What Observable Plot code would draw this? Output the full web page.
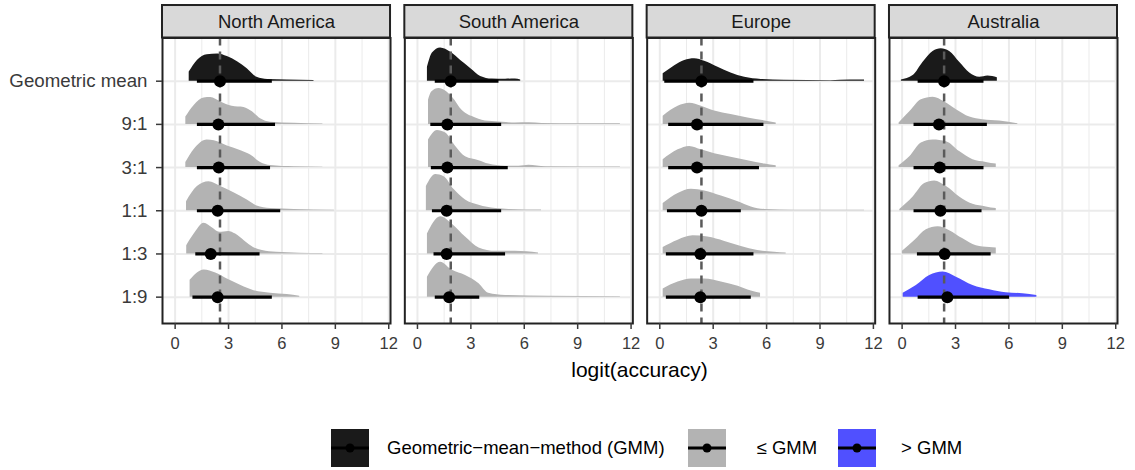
<!DOCTYPE html>
<html><head><meta charset="utf-8">
<script src="https://cdn.jsdelivr.net/npm/d3@7"></script>
<script src="https://cdn.jsdelivr.net/npm/@observablehq/plot@0.6"></script>
<style>
body{margin:0;background:#fff;font-family:"Liberation Sans",Arial,sans-serif;}
#wrap{position:relative;width:1135px;height:470px;overflow:hidden;}
#xtitle{position:absolute;left:162px;width:955px;top:357px;height:26px;line-height:26px;text-align:center;font-size:21px;color:#000;}
#legend{position:absolute;left:331px;top:428px;height:39px;display:flex;align-items:center;font-size:18.5px;color:#000;white-space:nowrap;}
#legend svg{display:block;}
</style></head>
<body><div id="wrap"><div id="chart"></div><div id="xtitle">logit(accuracy)</div><div id="legend"></div></div>
<script>
const regions = ["North America", "South America", "Europe", "Australia"];
const methods = ["Geometric mean", "9:1", "3:1", "1:1", "1:3", "1:9"];
const xTicks = [0, 3, 6, 9, 12];
const xMinor = [1.5, 4.5, 7.5, 10.5];
const gmmRef = [2.52, 1.87, 2.34, 2.36];

const groupKeys = ["gmm", "le", "gt"];
const groupNames = ["Geometric\u2212mean\u2212method (GMM)", "\u2264 GMM", "> GMM"];
const groupColors = ["#1a1a1a", "#b3b3b3", "#5050ff"];

const groupNA = ["gmm", "le", "le", "le", "le", "le"];
const groupSA = ["gmm", "le", "le", "le", "le", "le"];
const groupEU = ["gmm", "le", "le", "le", "le", "le"];
const groupAU = ["gmm", "le", "le", "le", "le", "gt"];

const estNA = [2.52, 2.43, 2.45, 2.39, 2.00, 2.39];
const loNA  = [1.25, 1.25, 1.25, 1.25, 1.16, 1.00];
const hiNA  = [5.46, 5.64, 5.36, 5.93, 4.77, 5.46];
const estSA = [1.87, 1.68, 1.68, 1.64, 1.64, 1.78];
const loSA  = [1.00, 0.75, 0.78, 0.84, 0.93, 1.00];
const hiSA  = [4.58, 4.73, 5.10, 4.73, 4.95, 3.50];
const estEU = [2.34, 2.09, 2.09, 2.34, 2.28, 2.28];
const loEU  = [0.28, 0.50, 0.50, 0.43, 0.37, 0.37];
const hiEU  = [5.29, 5.85, 5.60, 4.58, 5.29, 5.14];
const estAU = [2.36, 2.07, 2.11, 2.15, 2.39, 2.54];
const loAU  = [0.90, 0.67, 0.67, 0.67, 0.86, 0.90];
const hiAU  = [4.60, 4.79, 4.60, 4.49, 5.00, 6.04];

// density profiles [x, height] per method (Geometric mean, 9:1, 3:1, 1:1, 1:3, 1:9)
const densNA = [
  [[0.79,0.21],[1.25,0.48],[1.8,0.61],[2.4,0.63],[2.93,0.57],[3.5,0.45],[4.05,0.29],[4.6,0.09],[5.2,0.04],[6.3,0.03],[7.8,0.015]],
  [[0.6,0.17],[1.07,0.44],[1.63,0.61],[2.0,0.62],[2.56,0.52],[3.2,0.42],[3.87,0.39],[4.34,0.29],[4.8,0.13],[5.36,0.05],[6.7,0.025],[8.3,0.01]],
  [[0.6,0.12],[1.07,0.42],[1.8,0.64],[2.2,0.62],[2.93,0.5],[3.7,0.39],[4.24,0.29],[4.8,0.12],[5.36,0.05],[6.7,0.02],[8.3,0.01]],
  [[0.64,0.21],[1.25,0.56],[1.9,0.67],[2.56,0.56],[3.3,0.42],[4.05,0.25],[4.6,0.11],[5.36,0.05],[6.7,0.03],[8.95,0.01]],
  [[0.65,0.19],[1.07,0.46],[1.63,0.71],[2.1,0.6],[2.5,0.5],[3.0,0.52],[3.4,0.46],[3.9,0.3],[4.4,0.15],[4.9,0.08],[5.7,0.04],[8.3,0.01]],
  [[0.84,0.39],[1.63,0.63],[2.28,0.56],[2.93,0.42],[3.7,0.27],[4.43,0.15],[5.36,0.09],[6.3,0.06],[7.0,0.02]]
];
const densSA = [
  [[0.56,0.32],[0.84,0.65],[1.3,0.77],[1.87,0.67],[2.43,0.48],[3.0,0.29],[3.55,0.11],[4.2,0.05],[4.95,0.046],[5.5,0.05],[5.8,0.03]],
  [[0.62,0.56],[0.8,0.75],[1.21,0.83],[1.96,0.63],[2.52,0.32],[3.27,0.15],[4.0,0.07],[4.77,0.05],[5.5,0.03],[6.3,0.035],[7.0,0.02],[9.0,0.012],[11.4,0.012]],
  [[0.62,0.64],[1.12,0.86],[1.59,0.8],[2.15,0.49],[2.7,0.25],[3.46,0.16],[4.0,0.08],[4.95,0.03],[5.7,0.03],[6.26,0.054],[7.2,0.02],[11.4,0.012]],
  [[0.5,0.56],[1.03,0.84],[1.5,0.79],[2.06,0.49],[2.7,0.25],[3.46,0.13],[4.4,0.05],[5.14,0.03],[6.97,0.015]],
  [[0.56,0.46],[1.3,0.86],[1.96,0.69],[2.7,0.39],[3.46,0.14],[4.4,0.06],[5.5,0.06],[6.8,0.02]],
  [[0.56,0.46],[1.3,0.81],[1.96,0.62],[2.7,0.5],[3.46,0.31],[4.0,0.09],[4.95,0.04],[7.4,0.02],[11.4,0.012]]
];
const densEU = [
  [[0.19,0.17],[0.84,0.36],[1.4,0.48],[1.96,0.52],[2.52,0.46],[3.27,0.32],[4.0,0.19],[4.77,0.09],[5.7,0.04],[7.0,0.02],[9.6,0.012],[10.7,0.025],[11.5,0.025]],
  [[0.19,0.19],[1.03,0.42],[1.68,0.49],[2.34,0.42],[3.08,0.31],[4.0,0.23],[4.95,0.15],[5.9,0.08],[6.54,0.03]],
  [[0.19,0.18],[1.03,0.41],[1.68,0.49],[2.34,0.41],[3.08,0.32],[4.0,0.24],[4.95,0.16],[5.9,0.08],[6.54,0.04]],
  [[0.19,0.17],[1.03,0.4],[1.78,0.5],[2.52,0.46],[3.46,0.34],[4.4,0.21],[5.14,0.09],[5.9,0.03],[7.6,0.012],[11.5,0.012]],
  [[0.19,0.15],[1.03,0.32],[1.87,0.42],[2.7,0.39],[3.65,0.29],[4.58,0.17],[5.5,0.08],[6.45,0.04],[7.1,0.02]],
  [[0.19,0.19],[1.03,0.35],[1.78,0.42],[2.52,0.42],[3.46,0.35],[4.4,0.25],[5.14,0.14],[5.66,0.09]]
];
const densAU = [
  [[-0.04,0.03],[0.62,0.13],[1.18,0.44],[1.74,0.69],[2.2,0.75],[2.67,0.69],[3.23,0.44],[3.8,0.19],[4.36,0.09],[4.82,0.12],[5.35,0.08]],
  [[-0.17,0.03],[0.43,0.29],[1.08,0.57],[1.74,0.63],[2.39,0.52],[3.05,0.34],[3.8,0.17],[4.54,0.11],[5.48,0.08],[6.5,0.015]],
  [[-0.17,0.04],[0.43,0.25],[1.08,0.57],[1.74,0.64],[2.49,0.6],[3.23,0.37],[3.98,0.18],[4.73,0.12],[5.29,0.08]],
  [[-0.13,0.03],[0.62,0.32],[1.27,0.63],[1.83,0.69],[2.49,0.56],[3.23,0.32],[3.98,0.15],[4.73,0.09],[5.29,0.05]],
  [[0.02,0.06],[0.71,0.31],[1.36,0.56],[2.02,0.63],[2.67,0.54],[3.42,0.35],[4.17,0.19],[4.92,0.15],[5.29,0.14]],
  [[0.06,0.09],[0.8,0.27],[1.55,0.5],[2.3,0.58],[3.05,0.46],[3.98,0.27],[4.92,0.17],[5.85,0.1],[6.79,0.08],[7.57,0.04]]
];

const est = [estNA, estSA, estEU, estAU];
const lo = [loNA, loSA, loEU, loAU];
const hi = [hiNA, hiSA, hiEU, hiAU];
const dens = [densNA, densSA, densEU, densAU];
const groups = [groupNA, groupSA, groupEU, groupAU];

const xDom = [-0.71, 12.1];
const yDom = [0.39, 7.0];
const stripTop = 7.752;
const rowPos = m => methods.length - m;

const densRows = [];
const intervals = [];
regions.forEach((r, i) => {
  methods.forEach((meth, m) => {
    const g = groups[i][m];
    dens[i][m].forEach(([x, h]) => densRows.push({region: r, key: r + "|" + meth, x, y1: rowPos(m), y2: rowPos(m) + h, group: g}));
    intervals.push({region: r, row: rowPos(m), est: est[i][m], lo: lo[i][m], hi: hi[i][m]});
  });
});
const refRows = regions.map((r, i) => ({region: r, x: gmmRef[i]}));
const stripRows = regions.map(r => ({region: r}));
const rowLines = methods.map((d, m) => rowPos(m));

const chart = Plot.plot({
  width: 1135, height: 360,
  marginLeft: 162, marginRight: 18, marginTop: 37.5, marginBottom: 37,
  style: {fontFamily: "'Liberation Sans', Arial, sans-serif", background: "white"},
  fx: {domain: regions, paddingInner: 0.059, paddingOuter: 0, round: false, axis: null},
  x: {domain: xDom, axis: null},
  y: {domain: yDom, axis: null},
  color: {domain: groupKeys, range: groupColors},
  marks: [
    Plot.ruleX(xMinor, {x: d => d, stroke: "#ebebeb", strokeWidth: 1}),
    Plot.ruleX(xTicks, {x: d => d, stroke: "#ebebeb", strokeWidth: 2}),
    Plot.ruleY(rowLines, {y: d => d, stroke: "#ebebeb", strokeWidth: 2}),
    Plot.areaY(densRows, {fx: "region", x: "x", y1: "y1", y2: "y2", z: "key", fill: "group", curve: "monotone-x"}),
    Plot.ruleX(refRows, {fx: "region", x: "x", stroke: "#5a5a5a", strokeWidth: 2.5, strokeDasharray: "8,6"}),
    Plot.ruleY(intervals, {fx: "region", y: "row", x1: "lo", x2: "hi", stroke: "#000", strokeWidth: 3.2}),
    Plot.dot(intervals, {fx: "region", x: "est", y: "row", r: 6, fill: "#000"}),
    Plot.frame({stroke: "#222", strokeWidth: 2}),
    Plot.rect(stripRows, {fx: "region", x1: () => xDom[0], x2: () => xDom[1], y1: () => yDom[1], y2: () => stripTop, fill: "#d9d9d9", stroke: "#222", strokeWidth: 2, inset: 0}),
    Plot.text(stripRows, {fx: "region", x: () => (xDom[0] + xDom[1]) / 2, y: () => (yDom[1] + stripTop) / 2, text: "region", fontSize: 18.5, fill: "#1a1a1a"}),
    Plot.axisX({ticks: xTicks, tickSize: 6, tickPadding: 8, fontSize: 16.5, color: "#3a3a3a", label: null, strokeWidth: 1.5}),
    Plot.axisY({ticks: rowLines, tickFormat: d => methods[methods.length - d], tickSize: 6, tickPadding: 9, fontSize: 18.7, color: "#3a3a3a", label: null, strokeWidth: 1.5})
  ]
});
document.getElementById("chart").appendChild(chart);

// legend
const legend = document.getElementById("legend");
groupKeys.forEach((k, i) => {
  const item = document.createElement("div");
  item.style.display = "flex";
  item.style.alignItems = "center";
  item.style.marginRight = i === 0 ? "23px" : (i === 1 ? "21px" : "0px");
  const svg = d3.create("svg").attr("width", 38).attr("height", 38);
  svg.append("rect").attr("width", 38).attr("height", 38).attr("fill", groupColors[i]);
  svg.append("line").attr("x1", 0).attr("x2", 38).attr("y1", 19).attr("y2", 19).attr("stroke", "#000").attr("stroke-width", 3);
  svg.append("circle").attr("cx", 19).attr("cy", 19).attr("r", 4.5).attr("fill", "#000");
  item.appendChild(svg.node());
  const lab = document.createElement("span");
  lab.textContent = groupNames[i];
  lab.style.marginLeft = i === 0 ? "18px" : (i === 1 ? "31px" : "25px");
  item.appendChild(lab);
  legend.appendChild(item);
});
</script>
</body></html>
